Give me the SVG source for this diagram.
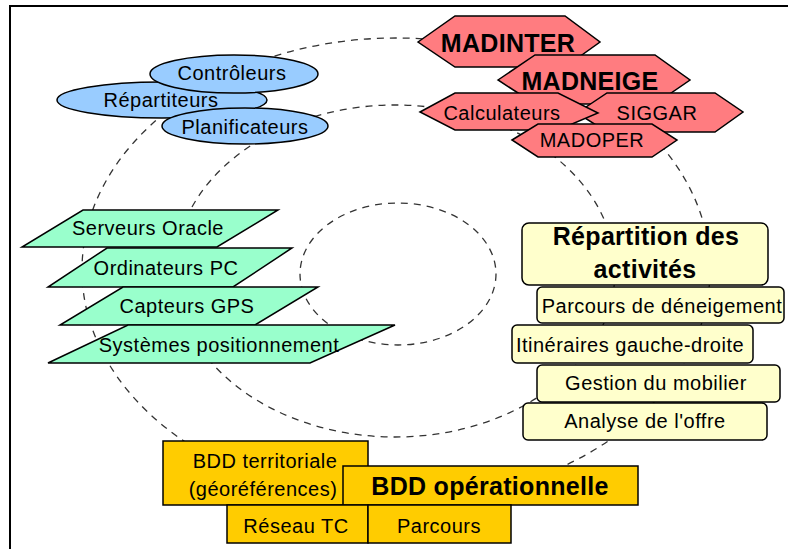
<svg xmlns="http://www.w3.org/2000/svg" width="788" height="549" viewBox="0 0 788 549">
<style>
text{font-family:"Liberation Sans",Arial,sans-serif;font-size:20px;fill:#000;text-anchor:middle;letter-spacing:0.5px}
.b{font-weight:bold;font-size:25px;letter-spacing:0.3px}
.ring{fill:none;stroke:#333;stroke-width:1.3;stroke-dasharray:7 6}
.ell{fill:#99CCFF;stroke:#000;stroke-width:1.5}
.hex{fill:#FF7C80;stroke:#000;stroke-width:1.5}
.par{fill:#99FFCC;stroke:#000;stroke-width:1.5}
.act{fill:#FFFFCC;stroke:#000;stroke-width:1.5}
.bdd{fill:#FFCC00;stroke:#000;stroke-width:1.5}
</style>
<rect width="788" height="549" fill="#fff"/>
<path d="M10 549V6H788" fill="none" stroke="#000" stroke-width="2"/>
<g id="connectors">
<ellipse class="ring" cx="396" cy="270" rx="314" ry="232"/>
<ellipse class="ring" cx="395" cy="271" rx="220" ry="166"/>
<ellipse class="ring" cx="398" cy="274" rx="98" ry="71"/>
</g>
<g id="repartiteurs"><ellipse class="ell" cx="162" cy="100" rx="105" ry="18"/><text x="161" y="107">Répartiteurs</text></g>
<g id="controleurs"><ellipse class="ell" cx="234" cy="74" rx="84" ry="19"/><text x="232" y="80">Contrôleurs</text></g>
<g id="planificateurs"><ellipse class="ell" cx="245" cy="126" rx="83" ry="18"/><text x="245" y="134">Planificateurs</text></g>
<g id="madinter"><polygon class="hex" points="418,42 455,16 565,16 600,42 565,67 455,67"/><text class="b" x="508" y="52">MADINTER</text></g>
<g id="madneige"><polygon class="hex" points="498,80 535,55 655,55 690,80 655,104 535,104"/><text class="b" x="590" y="90">MADNEIGE</text></g>
<g id="siggar"><polygon class="hex" points="577,113 607,93 715,93 743,112 715,132 607,132"/><text x="657" y="120">SIGGAR</text></g>
<g id="calculateurs"><polygon class="hex" points="420,112 455,93 558,93 598,113 558,130 455,130"/><text x="502" y="120">Calculateurs</text></g>
<g id="madoper"><polygon class="hex" points="512,140 538,124 652,124 677,140 652,157 538,157"/><text x="592" y="147">MADOPER</text></g>
<g id="serveurs"><polygon class="par" points="83,210 278,210 217,247 22,247"/><text x="148" y="235">Serveurs Oracle</text></g>
<g id="ordinateurs"><polygon class="par" points="107,248 292,248 233,287 48,287"/><text x="166" y="275">Ordinateurs PC</text></g>
<g id="capteurs"><polygon class="par" points="123,287 318,287 255,325 60,325"/><text x="187" y="313">Capteurs GPS</text></g>
<g id="systemes"><polygon class="par" points="128,325 395,325 310,363 48,363"/><text x="219" y="352">Systèmes positionnement</text></g>
<g id="repartition"><rect class="act" x="522" y="223" width="246" height="62" rx="7"/><text class="b" x="646" y="245">Répartition des</text><text class="b" x="645" y="278">activités</text></g>
<g id="deneigement"><rect class="act" x="537" y="287" width="247" height="36" rx="5"/><text x="662" y="313">Parcours de déneigement</text></g>
<g id="itineraires"><rect class="act" x="512" y="325" width="241" height="38" rx="5"/><text x="630" y="352">Itinéraires gauche-droite</text></g>
<g id="mobilier"><rect class="act" x="537" y="365" width="243" height="37" rx="5"/><text x="656" y="390">Gestion du mobilier</text></g>
<g id="offre"><rect class="act" x="523" y="403" width="244" height="37" rx="5"/><text x="645" y="428">Analyse de l'offre</text></g>
<g id="bdd-territoriale"><rect class="bdd" x="163" y="441" width="205" height="64"/><text x="265" y="468">BDD territoriale</text><text x="263" y="496">(géoréférences)</text></g>
<g id="bdd-operationnelle"><rect class="bdd" x="343" y="466" width="295" height="39"/><text class="b" x="490" y="495">BDD opérationnelle</text></g>
<g id="reseau-tc"><rect class="bdd" x="227" y="505" width="141" height="38"/><text x="296" y="533">Réseau TC</text></g>
<g id="parcours"><rect class="bdd" x="368" y="505" width="143" height="38"/><text x="439" y="533">Parcours</text></g>
</svg>
